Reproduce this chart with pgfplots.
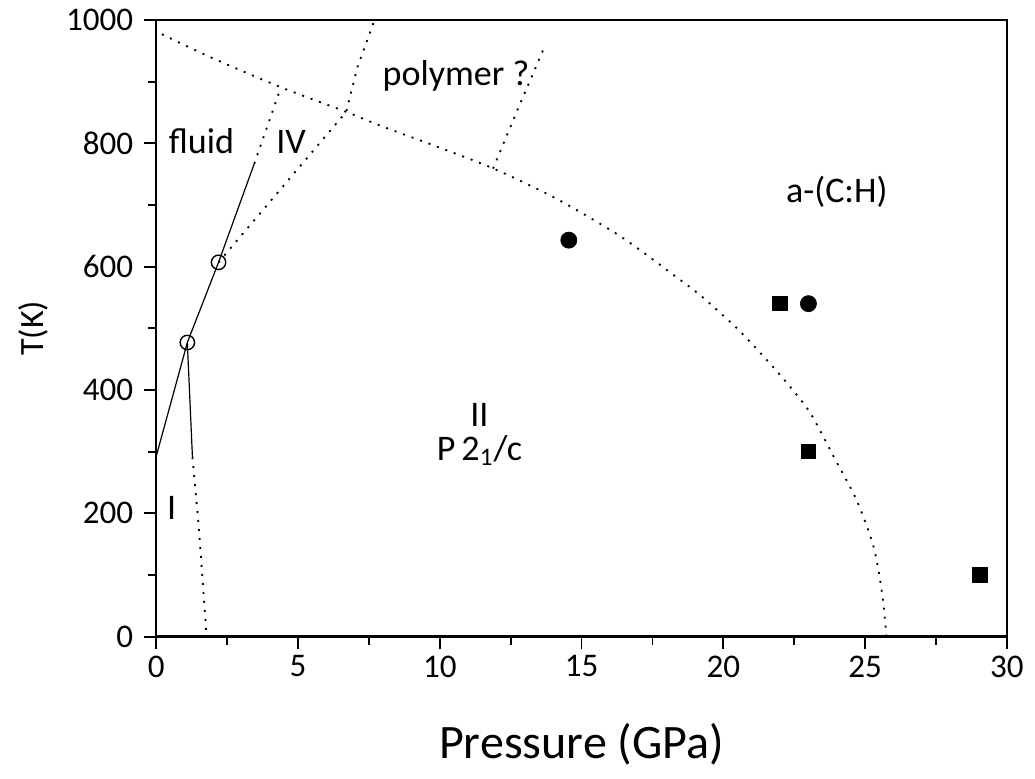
\documentclass[border=0pt]{standalone}
\usepackage{pgfplots}
\pgfplotsset{compat=1.18}
\usepackage{fontspec}
\setmainfont{Carlito}
\begin{document}
\begin{tikzpicture}
\begin{axis}[
  scale only axis,
  width=425pt, height=308pt,
  xmin=0, xmax=30, ymin=0, ymax=1000,
  xtick={0,5,...,30}, ytick={0,200,...,1000},
  minor xtick={2.5,7.5,...,27.5}, minor ytick={100,300,...,900},
  xtick pos=left, ytick pos=left,
  tick align=outside,
  major tick length=6pt, minor tick length=4pt,
  axis line style={line width=1.2pt},
  every tick/.style={line width=0.9pt, black},
  /pgf/number format/assume math mode=true,
  /pgf/number format/1000 sep={},
  tick label style={font=\fontsize{16.5}{16.5}\selectfont},
  yticklabel style={xshift=-2pt},
  xlabel={Pressure (GPa)},
  xlabel style={font=\fontsize{24}{24}\selectfont, yshift=-16pt},
  ylabel={T(K)},
  ylabel style={font=\fontsize{17}{17}\selectfont, yshift=2pt},
  clip=false,
]
% melting line (solid)
\addplot[black, line width=0.6pt] coordinates {(0,292) (1.1,477) (2.2,607) (3.46,767)};
% fluid-IV dotted
\addplot[black, line width=0.9pt, dash pattern=on 1pt off 3.5pt] coordinates {(3.46,767) (4.4,891)};
% I-II boundary solid part
\addplot[black, line width=0.6pt] coordinates {(1.1,477) (1.28,291)};
% I-II boundary dotted part
\addplot[black, line width=0.9pt, dash pattern=on 1pt off 3.5pt] coordinates {(1.28,291) (1.5,180) (1.78,0)};
% IV-II boundary and continuation
\addplot[black, line width=0.9pt, dash pattern=on 1pt off 3.5pt] coordinates {(2.2,607) (6.7,851) (7.1,924) (7.7,1000)};
% polymer boundary
\addplot[black, line width=0.9pt, dash pattern=on 1pt off 3.5pt] coordinates {(11.88,759) (12.72,852) (13.65,952)};
% big boundary curve
\addplot[black, line width=0.9pt, dash pattern=on 1pt off 3.5pt, smooth] coordinates {
(0.2,977) (2,938) (4.4,891) (6.7,851) (8,827) (10,793) (11.9,759) (14,713) (16,660) (17,629) (18.2,588) (19.2,553) (20.5,499) (21.7,440) (22.5,397) (23.1,360) (23.9,291) (24.7,221) (25.3,145) (25.6,69) (25.75,0)};
% open circles (triple points)
\addplot[only marks, mark=o, mark size=3.6pt, black, line width=0.7pt, mark options={fill=white}] coordinates {(1.1,477) (2.2,607)};
% filled circles
\addplot[only marks, mark=*, mark size=4pt, black] coordinates {(14.55,643) (23.0,540)};
% filled squares
\addplot[only marks, mark=square*, mark size=3.6pt, black] coordinates {(22.0,540) (23.0,300) (29.05,100)};
% labels
\node[font=\fontsize{18}{18}\selectfont] at (axis cs:1.6,803) {fluid};
\node[font=\fontsize{18}{18}\selectfont] at (axis cs:4.76,803) {IV};
\node[font=\fontsize{18}{18}\selectfont] at (axis cs:10.57,910) {polymer ?};
\node[font=\fontsize{18}{18}\selectfont] at (axis cs:24.0,721) {a-(C:H)};
\node[font=\fontsize{18}{18}\selectfont] at (axis cs:11.4,360) {II};
\node[font=\fontsize{18}{18}\selectfont] at (axis cs:11.4,302) {P\,2\textsubscript{1}/c};
\node[font=\fontsize{18}{18}\selectfont] at (axis cs:0.55,209) {I};
\end{axis}
\path (current axis.south west) ++(-78pt,-71pt) coordinate (bbA);
\path (current axis.north east) ++(14pt,10pt) coordinate (bbB);
\path (bbA) rectangle (bbB);
\end{tikzpicture}
\end{document}
